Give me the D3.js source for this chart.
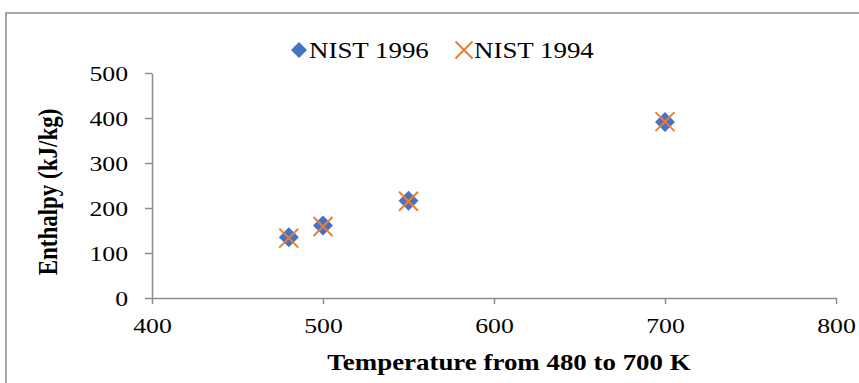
<!DOCTYPE html>
<html>
<head>
<meta charset="utf-8">
<script src="https://cdn.jsdelivr.net/npm/d3@7"></script>
<style>
  body { margin: 0; background: #fff; }
  text { font-family: "Liberation Serif", "Times New Roman", serif; fill: #000; }
</style>
</head>
<body>
<div id="chart"></div>
<script>
// data
var temps = [480, 500, 550, 700];
var nist1996 = [135, 161, 216, 391];
var nist1994 = [133, 159, 215, 392];
var xTicks = [400, 500, 600, 700, 800];
var yTicks = [0, 100, 200, 300, 400, 500];
var seriesNames = ["NIST 1996", "NIST 1994"];

var W = 859, H = 383;
var sx = 1.17; // the source picture has its text a bit wide
var margin = {top: 73, right: 23, bottom: 85, left: 152};
var width = 836 - margin.left,
    height = 298 - margin.top;

var svg = d3.select("#chart")
    .append("svg")
    .attr("width", W)
    .attr("height", H);

// chart frame (runs off the right and bottom edges)
svg.append("rect")
    .attr("x", 6)
    .attr("y", 13)
    .attr("width", 900)
    .attr("height", 420)
    .attr("fill", "none")
    .attr("stroke", "#8c8c8c")
    .attr("stroke-width", 1.5);

var g = svg.append("g")
    .attr("transform", "translate(" + margin.left + "," + margin.top + ")");

var x = d3.scaleLinear().domain([400, 800]).range([0, width]);
var y = d3.scaleLinear().domain([0, 500]).range([height, 0]);

// axes
var xAxis = g.append("g")
    .attr("transform", "translate(0," + height + ")")
    .call(d3.axisBottom(x).tickValues(xTicks).tickSize(6).tickPadding(13).tickSizeOuter(0));
var yAxis = g.append("g")
    .call(d3.axisLeft(y).tickValues(yTicks).tickSize(7).tickPadding(17).tickSizeOuter(0));

[xAxis, yAxis].forEach(function(a) {
    a.select(".domain").attr("stroke", "#8c8c8c").attr("stroke-width", 1.5);
    a.selectAll(".tick line").attr("stroke", "#8c8c8c").attr("stroke-width", 1.5);
    a.selectAll(".tick text")
        .attr("font-size", 22)
        .attr("fill", "#000");
});
xAxis.selectAll(".tick text").attr("transform", "scale(" + sx + ",1)");
yAxis.selectAll(".tick text")
    .attr("x", -24 / sx)
    .attr("transform", "scale(" + sx + ",1)");

// axis titles
svg.append("text")
    .attr("transform", "translate(509,370) scale(" + sx + ",1)")
    .attr("text-anchor", "middle")
    .attr("font-size", 23)
    .attr("font-weight", "bold")
    .text("Temperature from 480 to 700 K");

svg.append("text")
    .attr("transform", "translate(57,192) rotate(-90) scale(1," + sx + ")")
    .attr("text-anchor", "middle")
    .attr("font-size", 23)
    .attr("font-weight", "bold")
    .text("Enthalpy (kJ/kg)");

function diamond(r) {
    return "M0," + (-r) + "L" + r + ",0L0," + r + "L" + (-r) + ",0Z";
}
function cross(r) {
    return "M" + (-r) + "," + (-r) + "L" + r + "," + r + "M" + (-r) + "," + r + "L" + r + "," + (-r);
}

// NIST 1996 diamonds
g.selectAll(".d1996")
    .data(temps)
    .enter()
    .append("path")
    .attr("class", "d1996")
    .attr("transform", function(d, i) { return "translate(" + x(d) + "," + y(nist1996[i]) + ")"; })
    .attr("d", diamond(10))
    .attr("fill", "#4472C4");

// NIST 1994 crosses
g.selectAll(".x1994")
    .data(temps)
    .enter()
    .append("path")
    .attr("class", "x1994")
    .attr("transform", function(d, i) { return "translate(" + x(d) + "," + y(nist1994[i]) + ")"; })
    .attr("d", cross(9.5))
    .attr("fill", "none")
    .attr("stroke", "#ED7D31")
    .attr("stroke-width", 2);

// legend
var leg = svg.append("g");
leg.append("path")
    .attr("transform", "translate(299,50)")
    .attr("d", diamond(8))
    .attr("fill", "#4472C4");
leg.append("text")
    .attr("transform", "translate(309,58) scale(" + sx + ",1)")
    .attr("font-size", 23)
    .text(seriesNames[0]);
leg.append("path")
    .attr("transform", "translate(464,50)")
    .attr("d", cross(8.5))
    .attr("fill", "none")
    .attr("stroke", "#ED7D31")
    .attr("stroke-width", 2);
leg.append("text")
    .attr("transform", "translate(474,58) scale(" + sx + ",1)")
    .attr("font-size", 23)
    .text(seriesNames[1]);
</script>
</body>
</html>
